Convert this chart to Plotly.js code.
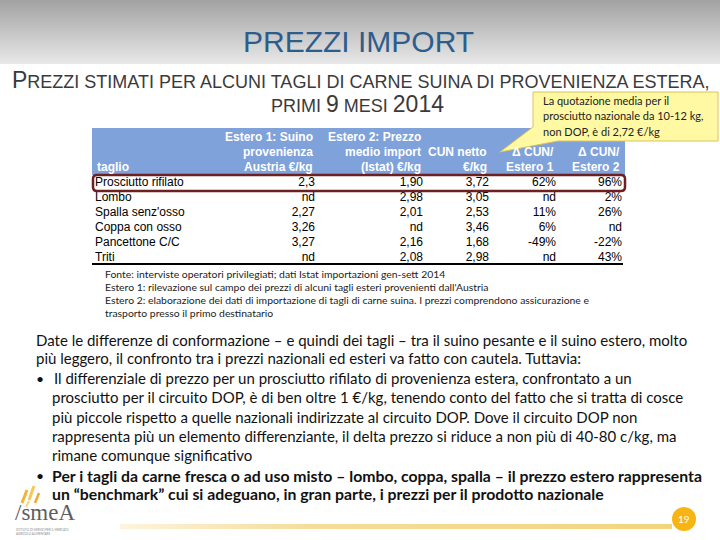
<!DOCTYPE html>
<html><head><meta charset="utf-8">
<script src="https://cdn.plot.ly/plotly-3.0.1.min.js"></script>
<style>html,body{margin:0;padding:0;background:#fff}#chart{width:720px;height:540px}</style>
</head><body><div id="chart"></div>
<script>
// ---- data ----
const tagli = ["Prosciutto rifilato","Lombo","Spalla senz'osso","Coppa con osso","Pancettone C/C","Triti"];
const estero1 = [2.3, null, 2.27, 3.26, 3.27, null];
const estero2 = [1.90, 2.98, 2.01, null, 2.16, 2.08];
const cunNetto = [3.72, 3.05, 2.53, 3.46, 1.68, 2.98];
const deltaEst1 = [62, null, 11, 6, -49, null];
const deltaEst2 = [96, 2, 26, null, -22, 43];
const headerLines = [
  ["", "", "taglio"],
  ["Estero 1: Suino", "provenienza", "Austria €/kg"],
  ["Estero 2: Prezzo", "medio import", "(Istat) €/kg"],
  ["", "CUN netto", "€/kg"],
  ["", "Δ CUN/", "Estero 1"],
  ["", "Δ CUN/", "Estero 2"]
];

function fmt(v, d){ if(v===null) return "nd"; return (d===undefined? String(v) : v.toFixed(d)).replace('.', ','); }
function pct(v){ return v===null ? "nd" : v + "%"; }

const W=720, H=540;
const px = x => x/W, py = y => 1 - y/H;

// layout of table columns (pixel anchors on a 0..720 hidden axis)
const colAnchor = [95, 315, 423, 489, 556, 622];
const colAlign = ['left','right','right','right','right','right'];
const colText = [tagli, estero1.map(v=>fmt(v)), estero2.map(v=>fmt(v,2)), cunNetto.map(v=>fmt(v,2)), deltaEst1.map(pct), deltaEst2.map(pct)];
const tFont = 'Liberation Sans, Arial, sans-serif';

const traces = colText.map((txt, c) => ({
  type:'scatter', mode:'text', x: tagli.map(()=>colAnchor[c]), y: tagli, text: txt,
  textposition: colAlign[c]==='left' ? 'middle right' : 'middle left',
  textfont:{family:tFont, size:12, color:'#000000'}, cliponaxis:false, hoverinfo:'skip'
}));

function svgURI(s){ return 'data:image/svg+xml;charset=utf-8,' + encodeURIComponent(s); }
const band = svgURI("<svg xmlns='http://www.w3.org/2000/svg' width='720' height='64' preserveAspectRatio='none'><defs><linearGradient id='g' x1='0' y1='0' x2='0' y2='1'><stop offset='0' stop-color='#a2a2a2'/><stop offset='1' stop-color='#e8e8e8'/></linearGradient></defs><rect width='720' height='64' fill='url(#g)'/></svg>");
const yline = svgURI("<svg xmlns='http://www.w3.org/2000/svg' width='560' height='6' preserveAspectRatio='none'><defs><linearGradient id='g' x1='0' y1='0' x2='1' y2='0'><stop offset='0' stop-color='#fdf4dc'/><stop offset='0.35' stop-color='#f5dc9a'/><stop offset='1' stop-color='#f3d47e'/></linearGradient></defs><rect width='560' height='6' fill='url(#g)'/></svg>");

const body = 'Lato, "Noto Sans", sans-serif';
function ann(x, y, text, size, color, family, xanchor, extra){
  return Object.assign({xref:'paper', yref:'paper', x:px(x), y:py(y), text:text, showarrow:false,
    xanchor:xanchor||'left', yanchor:'middle', align:xanchor||'left',
    font:{family:family||body, size:size, color:color||'#111111'}}, extra||{});
}

const annotations = [
  ann(358, 42, 'PREZZI IMPORT', 30, '#2e5d8c', 'Liberation Sans, Arial, sans-serif', 'center'),
  ann(360, 80, '<span style="font-size:23px">P</span>REZZI STIMATI PER ALCUNI TAGLI DI CARNE SUINA DI PROVENIENZA ESTERA,', 18, '#3a3a3a', tFont, 'center'),
  ann(357, 104, 'PRIMI <span style="font-size:23px">9</span> MESI <span style="font-size:23px">2014</span>', 18, '#3a3a3a', tFont, 'center'),
  ann(541, 101, 'La quotazione media per il', 11, '#222222'),
  ann(541, 116, 'prosciutto nazionale da 10-12 kg,', 11, '#222222'),
  ann(541, 131, 'non DOP, è di 2,72 €/kg', 11, '#222222'),
  ann(103, 274, 'Fonte: interviste operatori privilegiati; dati Istat importazioni gen-sett 2014', 10.4, '#222222'),
  ann(103, 287, 'Estero 1: rilevazione sul campo dei prezzi di alcuni tagli esteri provenienti dall\'Austria', 10.4, '#222222'),
  ann(103, 300, 'Estero 2: elaborazione dei dati di importazione di tagli di carne suina. I prezzi comprendono assicurazione e', 10.4, '#222222'),
  ann(103, 313, 'trasporto presso il primo destinatario', 10.4, '#222222'),
  ann(34, 340, 'Date le differenze di conformazione – e quindi dei tagli – tra il suino pesante e il suino estero, molto', 15),
  ann(34, 358, 'più leggero, il confronto tra i prezzi nazionali ed esteri va fatto con cautela. Tuttavia:', 15),
  ann(34, 378, '•', 14),
  ann(52, 378, 'Il differenziale di prezzo per un prosciutto rifilato di provenienza estera, confrontato a un', 15),
  ann(50, 397, 'prosciutto per il circuito DOP, è di ben oltre 1 €/kg, tenendo conto del fatto che si tratta di cosce', 15),
  ann(50, 417, 'più piccole rispetto a quelle nazionali indirizzate al circuito DOP. Dove il circuito DOP non', 15),
  ann(50, 436, 'rappresenta più un elemento differenziante, il delta prezzo si riduce a non più di 40-80 c/kg, ma', 15),
  ann(50, 455, 'rimane comunque significativo', 15),
  ann(34, 475, '•', 14),
  ann(50, 475, '<b>Per i tagli da carne fresca o ad uso misto – lombo, coppa, spalla – il prezzo estero rappresenta</b>', 15.8),
  ann(50, 493, '<b>un “benchmark” cui si adeguano, in gran parte, i prezzi per il prodotto nazionale</b>', 15.8),
  ann(684, 519, '19', 10, '#ffffff', body, 'center'),
  ann(13, 512, '/smeA', 23, '#5e5e5e', '"Liberation Serif", serif'),
  ann(14, 532, 'ISTITUTO DI SERVIZI PER IL MERCATO<br>AGRICOLO ALIMENTARE', 3, '#888888', body)
];
// table header text, one annotation per header line
headerLines.forEach((lines, c) => {
  lines.forEach((t, i) => {
    if (!t) return;
    annotations.push(ann(colAnchor[c], 137 + 15*i, '<b>'+t+'</b>', 12, '#ffffff', tFont, colAlign[c]));
  });
});

function P(x,y){ return px(x)+','+py(y); }
const shapes = [
  // table header band
  {type:'rect', xref:'paper', yref:'paper', layer:'below', x0:px(92), x1:px(625), y0:py(128), y1:py(175), fillcolor:'#7fa2da', line:{width:0}},
  // callout with pointer
  {type:'path', xref:'paper', yref:'paper', layer:'above',
   path:'M'+P(533,92)+' L'+P(718,92)+' L'+P(718,141)+' L'+P(558,141)+' L'+P(500,152)+' L'+P(533,127)+' Z',
   fillcolor:'#fff9a3', line:{color:'#dcc25a', width:1}},
  // highlight around first row
  {type:'path', xref:'paper', yref:'paper', layer:'above',
   path:'M'+P(97,175)+' L'+P(621,175)+' Q'+P(625,175)+' '+P(625,179)+' L'+P(625,187)+' Q'+P(625,191)+' '+P(621,191)+
        ' L'+P(97,191)+' Q'+P(93,191)+' '+P(93,187)+' L'+P(93,179)+' Q'+P(93,175)+' '+P(97,175)+' Z',
   line:{color:'#6e1f1f', width:2.5}},
  // bottom rule of table
  {type:'line', xref:'paper', yref:'paper', x0:px(92), x1:px(623), y0:py(264), y1:py(264), line:{color:'#000000', width:2}},
  // page number circle
  {type:'circle', xref:'paper', yref:'paper', x0:px(672), x1:px(696), y0:py(507), y1:py(531), fillcolor:'#f6b512', line:{width:0}},
  // logo flame strokes
  {type:'line', xref:'paper', yref:'paper', x0:px(22), y0:py(503), x1:px(27), y1:py(490), line:{color:'#f2b33a', width:3}},
  {type:'line', xref:'paper', yref:'paper', x0:px(29), y0:py(500), x1:px(34), y1:py(486), line:{color:'#f6c85a', width:3}},
  {type:'line', xref:'paper', yref:'paper', x0:px(35), y0:py(503), x1:px(39), y1:py(493), line:{color:'#f0a830', width:2.5}},
  {type:'line', xref:'paper', yref:'paper', x0:px(26), y0:py(507), x1:px(29), y1:py(501), line:{color:'#f7d67a', width:2}}
];

const images = [
  {source:band, xref:'paper', yref:'paper', x:0, y:1, sizex:1, sizey:64/H, xanchor:'left', yanchor:'top', sizing:'stretch', layer:'below'},
  {source:yline, xref:'paper', yref:'paper', x:px(120), y:py(524), sizex:px(672)-px(120), sizey:5/H, xanchor:'left', yanchor:'top', sizing:'stretch', layer:'below'}
];

const layout = {
  width:W, height:H, margin:{l:0,r:0,t:0,b:0},
  paper_bgcolor:'#ffffff', plot_bgcolor:'rgba(0,0,0,0)', showlegend:false,
  xaxis:{visible:false, range:[0, W], domain:[0,1], fixedrange:true},
  yaxis:{visible:false, type:'category', categoryorder:'array', categoryarray:tagli,
         range:[tagli.length-0.5, -0.5], domain:[py(265.5), py(175.5)], fixedrange:true},
  annotations:annotations, shapes:shapes, images:images
};

Plotly.newPlot('chart', traces, layout, {displayModeBar:false, staticPlot:true});
</script>
</body></html>
